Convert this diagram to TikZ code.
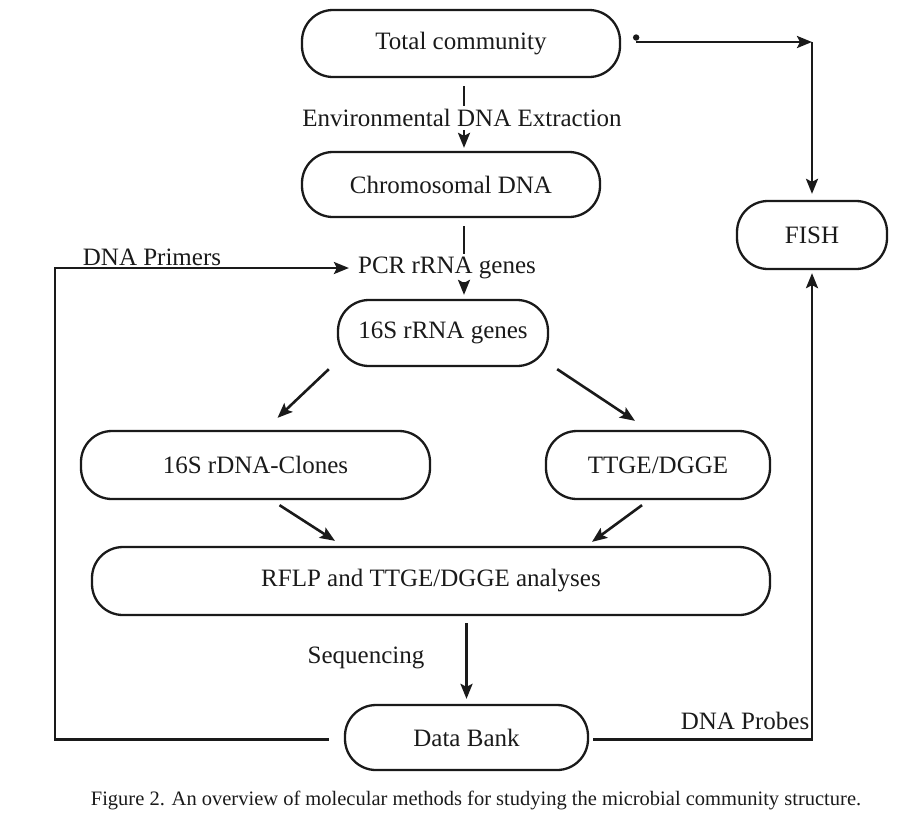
\documentclass[tikz,border=0pt]{standalone}
\usepackage{fontspec}
\setmainfont{Liberation Serif}
\usetikzlibrary{arrows.meta}
\definecolor{ink}{HTML}{1A1A1A}
\begin{document}
\begin{tikzpicture}[x=1pt,y=-1pt,
  stage/.style={draw=ink, line width=2.3pt, rounded corners=31pt, inner sep=0pt,
    font=\fontsize{25}{30}\selectfont, text=ink},
  lbl/.style={font=\fontsize{25}{30}\selectfont, text=ink, inner sep=0pt},
  onlink/.style={lbl, inner sep=3pt},
  link/.style={draw=ink, line width=2.6pt},
  flow/.style={link, -{Stealth[length=15pt,width=12pt,inset=3pt]}},
]
\useasboundingbox (0,0) rectangle (904,823);

% stages of the workflow
\node[stage, minimum width=318pt, minimum height=67pt] (tc)   at (461,43.5)  {Total community};
\node[stage, minimum width=298pt, minimum height=65pt] (chr)  at (451,184.5) {Chromosomal DNA};
\node[stage, minimum width=210pt, minimum height=66pt] (r16)  at (443,333)   {16S rRNA genes};
\node[stage, minimum width=349pt, minimum height=68pt] (clo)  at (255.5,465) {16S rDNA-Clones};
\node[stage, minimum width=224pt, minimum height=68pt] (tt)   at (658,465)   {TTGE/DGGE};
\node[stage, minimum width=678pt, minimum height=68pt] (rf)   at (431,581)   {RFLP and TTGE/DGGE analyses};
\node[stage, minimum width=243pt, minimum height=65pt] (db)   at (466.5,737.5) {Data Bank};
\node[stage, minimum width=150pt, minimum height=68pt] (fish) at (812,235)   {FISH};

% step labels
\node[onlink] (env)    at (462,118) {Environmental DNA Extraction};
\node[onlink] (pcr)    at (447,268) {PCR rRNA genes};
\node[lbl]    (prim)   at (152,257) {DNA Primers};
\node[lbl]    (seq)    at (366,658) {Sequencing};
\node[lbl]    (probes) at (745,721) {DNA Probes};

% guide lines for the vertical main flow and the left return rail
\coordinate (spine) at (464,0);
\coordinate (lrail) at (55,0);

% main vertical flow, broken by its step labels
\draw[link] ([yshift=-8pt]tc.south -| spine) -- (env.north -| spine);
\draw[flow] (env.south -| spine) -- ([yshift=3pt]chr.north -| spine);
\draw[link] ([yshift=-8pt]chr.south -| spine) -- (pcr.north -| spine);
\draw[flow] (pcr.south -| spine) -- ([yshift=4pt]r16.north -| spine);

% split into clone libraries and gel fingerprinting
\draw[flow] ([shift={(-8pt,-2pt)}]r16.south west) -- ([shift={(22pt,12pt)}]clo.north);
\draw[flow] ([shift={(8pt,-2pt)}]r16.south east) -- ([shift={(-23pt,9pt)}]tt.north);
\draw[flow] ([shift={(24pt,-5pt)}]clo.south) -- ([shift={(-96pt,5pt)}]rf.north);
\draw[flow] ([shift={(-16pt,-5pt)}]tt.south) -- ([shift={(161pt,4pt)}]rf.north);

% sequencing into the data bank
\draw[flow] ([yshift=-7pt]rf.south -| db.north) -- ([yshift=5pt]db.north);

% feedback: primers back to PCR, probes up to FISH
\draw[flow] ([xshift=-15pt,yshift=-2pt]db.west) -- ([yshift=-2pt]db.west -| lrail) -- (pcr.west -| lrail) -- ([xshift=-6pt]pcr.west);
\draw[flow] ([xshift=4pt,yshift=-2pt]db.east) -- ([yshift=-2pt]db.east -| fish.south) -- ([yshift=-3pt]fish.south);

% direct path from the community to FISH
\fill[ink] ([xshift=15pt,yshift=6pt]tc.east) circle (3.2pt);
\draw[flow] ([xshift=15pt,yshift=1.5pt]tc.east) -- ([yshift=1.5pt]tc.east -| fish.north);
\draw[flow] ([yshift=1.5pt]tc.east -| fish.north) -- ([yshift=6pt]fish.north);

% caption
\node[text=ink, inner sep=0pt, font=\fontsize{20.5}{24}\selectfont] (cap) at (476,800)
  {Figure 2. An overview of molecular methods for studying the microbial community structure.};
\end{tikzpicture}
\end{document}
